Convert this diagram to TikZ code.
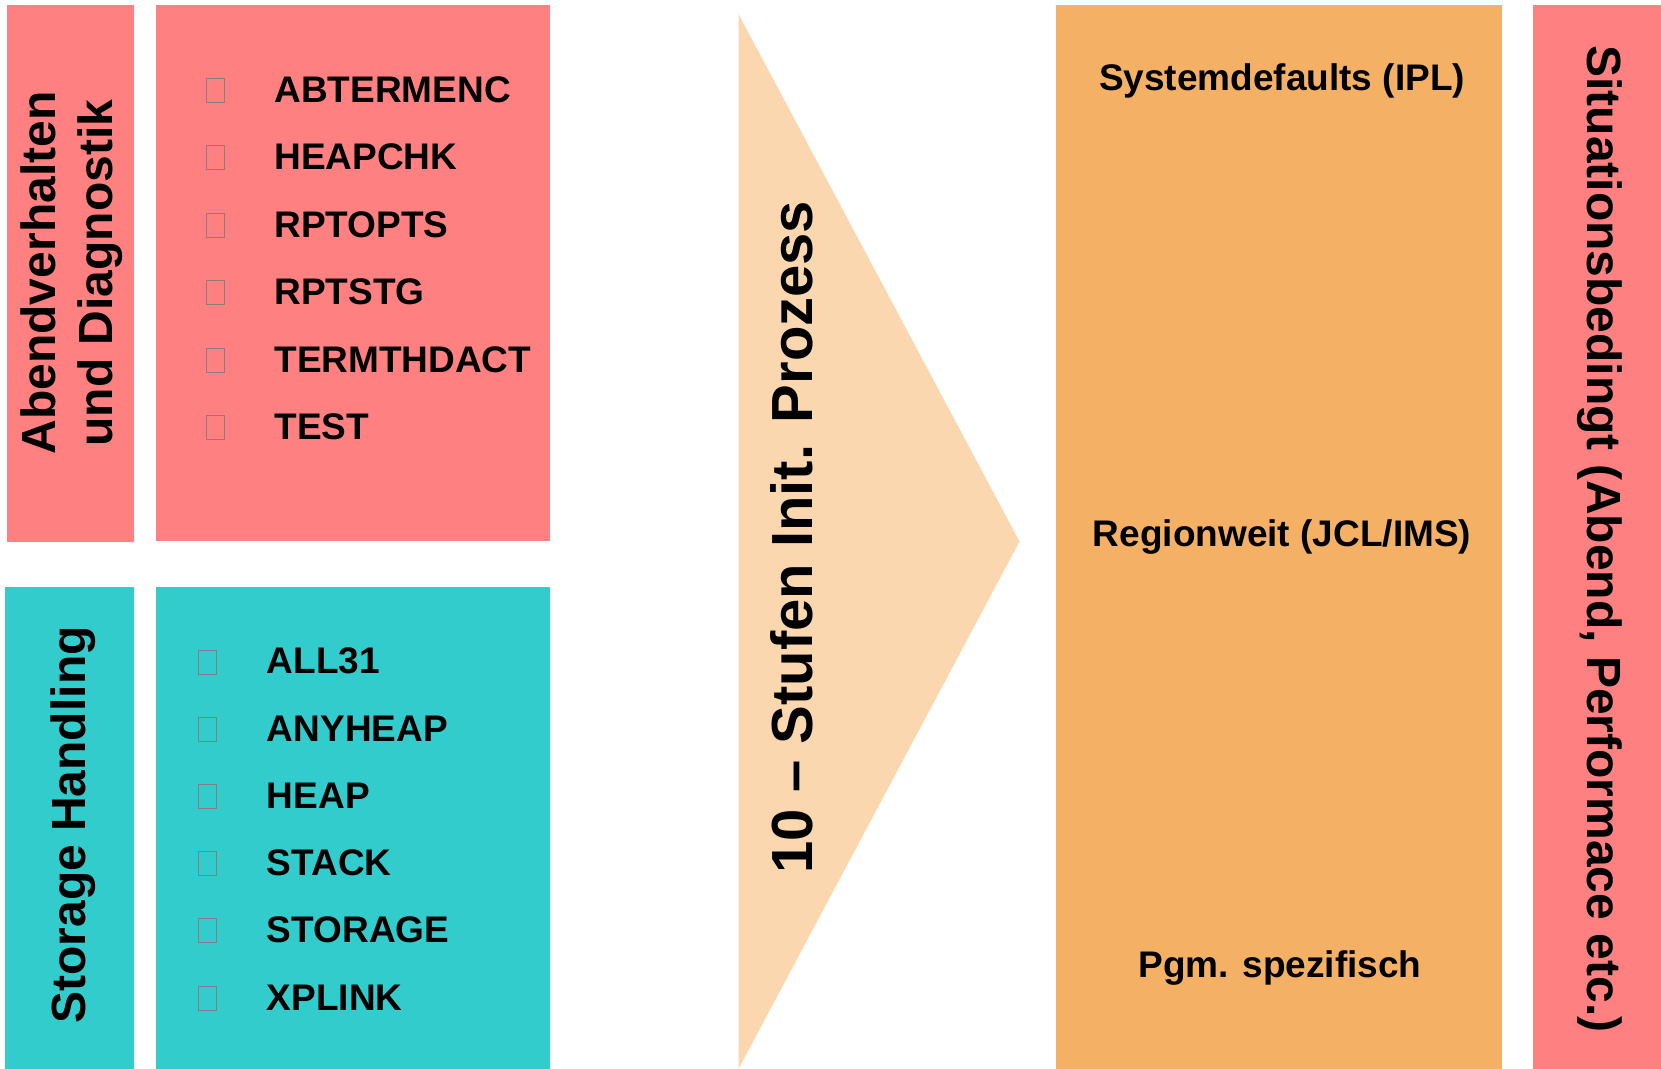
\documentclass[tikz,border=0pt]{standalone}
\usepackage{fontspec}
\setmainfont{Liberation Sans}
\usetikzlibrary{calc}

\definecolor{pinkfill}{RGB}{255,128,128}
\definecolor{tealfill}{RGB}{51,204,204}
\definecolor{orangefill}{RGB}{244,177,102}
\definecolor{peachfill}{RGB}{250,215,175}
\definecolor{boxline}{RGB}{140,125,125}

\begin{document}
\begin{tikzpicture}[x=0.5pt, y=-0.5pt]
\tikzstyle{every node} = [inner sep=0, font=\bfseries]
\tikzstyle{bulletbox} = [draw=boxline, line width=0.5pt, minimum width=9pt, minimum height=12pt]
\tikzstyle{item} = [anchor=base west, font=\bfseries\fontsize{18.5pt}{22pt}\selectfont]
\tikzstyle{level} = [anchor=base, font=\bfseries\fontsize{18.5pt}{22pt}\selectfont]
\useasboundingbox (0,0) rectangle (1661,1069);
% blocks
\fill[pinkfill] (7,5) rectangle (134,542);
\fill[pinkfill] (156,5) rectangle (550,541);
\fill[tealfill] (5,587) rectangle (133.5,1069);
\fill[tealfill] (156,587) rectangle (550,1069);
\fill[peachfill] (738.5,14) -- (1019.5,541.5) -- (738.5,1069) -- cycle;
\fill[orangefill] (1056,5) rectangle (1502,1069);
\fill[pinkfill] (1533,5) rectangle (1661,1069);
% side titles
\node[rotate=90, align=center, font=\bfseries\fontsize{24pt}{28.5pt}\selectfont] (abend) at (72,273) {Abendverhalten\\und Diagnostik};
\node[rotate=90, anchor=base, font=\bfseries\fontsize{24pt}{29pt}\selectfont] (storage) at (85.5,825) {Storage Handling};
\node[rotate=90, anchor=base, font=\bfseries\fontsize{29pt}{34pt}\selectfont] (stufen) at (812,537) {10 -- Stufen Init. Prozess};
\node[rotate=-90, anchor=base, font=\bfseries\fontsize{24pt}{29pt}\selectfont] (situation) at (1587,539) {Situationsbedingt (Abend, Performace etc.)};
% options
\foreach \opt [count=\i from 0] in {ABTERMENC,HEAPCHK,RPTOPTS,RPTSTG,TERMTHDACT,TEST} {
  \node[bulletbox] (ab\i) at (215,90.3+67.5*\i) {};
  \node[item] (abopt\i) at (274,102.3+67.5*\i) {\opt};
}
\foreach \opt [count=\i from 0] in {ALL31,ANYHEAP,HEAP,STACK,STORAGE,XPLINK} {
  \node[bulletbox] (st\i) at (207.5,662+67.2*\i) {};
  \node[item] (stopt\i) at (266.5,674+67.2*\i) {\opt};
}
% levels
\node[level] (ipl) at (1282,91) {Systemdefaults (IPL)};
\node[level] (region) at (1282,546) {Regionweit (JCL/IMS)};
\node[level] (pgm) at (1280,977) {Pgm. spezifisch};
\end{tikzpicture}
\end{document}
